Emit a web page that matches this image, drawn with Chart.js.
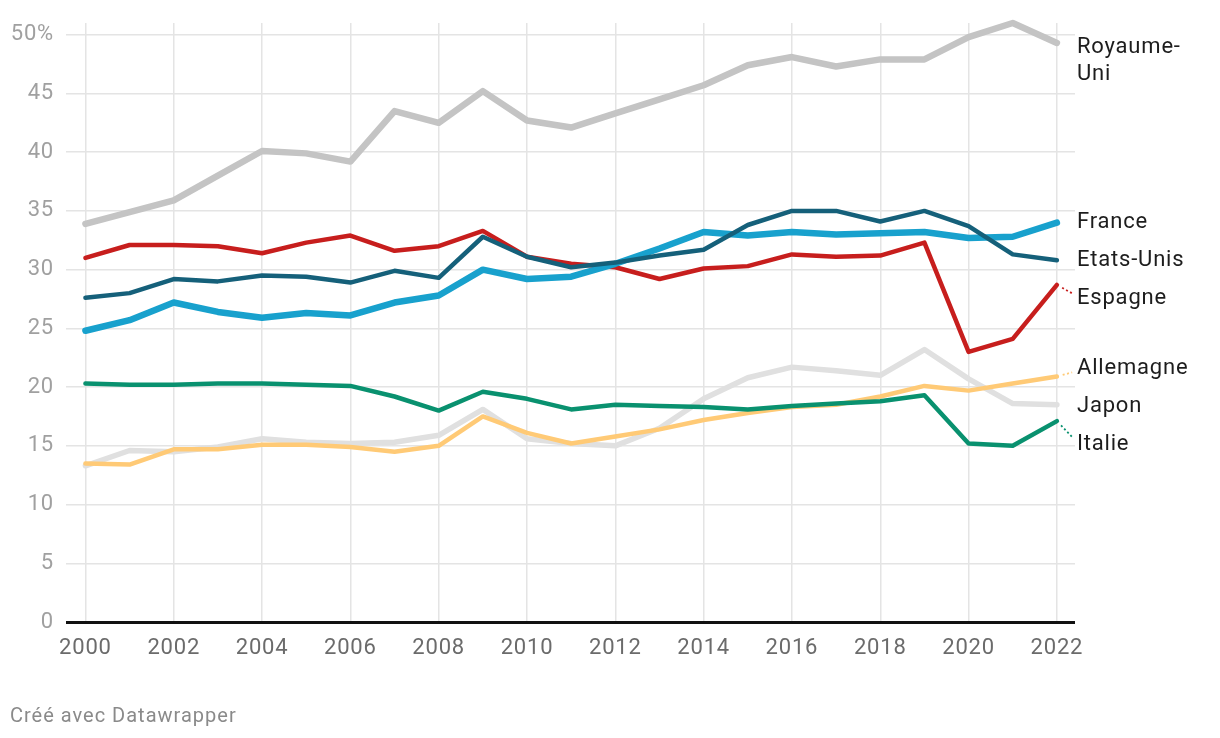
<!DOCTYPE html>
<html>
<head>
<meta charset="utf-8">
<script src="https://cdn.jsdelivr.net/npm/chart.js@4.4.1/dist/chart.umd.min.js"></script>
<style>
  html, body { margin: 0; padding: 0; background: #fff; }
  #wrap { position: relative; width: 1220px; height: 738px; }
  canvas { display: block; }
  #footer { position: absolute; left: 10px; top: 703px; font-family: Roboto, sans-serif; font-size: 20px; letter-spacing: 1px; color: #8a8a8a; }
</style>
</head>
<body>
<div id="wrap">
  <canvas id="c" width="1220" height="738"></canvas>
  <div id="footer">Créé avec Datawrapper</div>
</div>
<script>
const years = [2000,2001,2002,2003,2004,2005,2006,2007,2008,2009,2010,2011,2012,2013,2014,2015,2016,2017,2018,2019,2020,2021,2022];
const xTickYears = [2000,2002,2004,2006,2008,2010,2012,2014,2016,2018,2020,2022];
const yTickValues = [0,5,10,15,20,25,30,35,40,45,50];

const royaumeUni = [33.9,34.9,35.9,38.0,40.1,39.9,39.2,43.5,42.5,45.2,42.7,42.1,43.3,44.5,45.7,47.4,48.1,47.3,47.9,47.9,49.8,51.0,49.3];
const france     = [24.8,25.7,27.2,26.4,25.9,26.3,26.1,27.2,27.8,30.0,29.2,29.4,30.5,31.8,33.2,32.9,33.2,33.0,33.1,33.2,32.7,32.8,34.0];
const etatsUnis  = [27.6,28.0,29.2,29.0,29.5,29.4,28.9,29.9,29.3,32.8,31.1,30.2,30.6,31.2,31.7,33.8,35.0,35.0,34.1,35.0,33.7,31.3,30.8];
const espagne    = [31.0,32.1,32.1,32.0,31.4,32.3,32.9,31.6,32.0,33.3,31.1,30.5,30.2,29.2,30.1,30.3,31.3,31.1,31.2,32.3,23.0,24.1,28.7];
const allemagne  = [13.5,13.4,14.7,14.7,15.1,15.1,14.9,14.5,15.0,17.5,16.1,15.2,15.8,16.4,17.2,17.8,18.3,18.5,19.2,20.1,19.7,20.3,20.9];
const japon      = [13.3,14.6,14.5,14.9,15.6,15.3,15.2,15.3,15.9,18.1,15.6,15.2,15.0,16.5,19.0,20.8,21.7,21.4,21.0,23.2,20.7,18.6,18.5];
const italie     = [20.3,20.2,20.2,20.3,20.3,20.2,20.1,19.2,18.0,19.6,19.0,18.1,18.5,18.4,18.3,18.1,18.4,18.6,18.8,19.3,15.2,15.0,17.1];

const seriesNames = ['Royaume-Uni','France','Etats-Unis','Espagne','Allemagne','Japon','Italie'];
// label lines and label anchor value (in % units) for the right-hand labels
const labelLines = [['Royaume-','Uni'],['France'],['Etats-Unis'],['Espagne'],['Allemagne'],['Japon'],['Italie']];
const labelValues = [48.9, 34.0, 30.8, 27.55, 21.6, 18.35, 15.15];
const connectors = [false,false,false,true,true,false,true];

const colors = ['#c4c4c4','#18a1cd','#15607a','#c71e1d','#ffca76','#e0e0e0','#09916f'];
const widths = [6.5,6.5,4.5,4.5,4.5,5.5,4.5];
const orders = [6,3,2,4,5,7,1];
const allSeries = [royaumeUni, france, etatsUnis, espagne, allemagne, japon, italie];

const datasets = allSeries.map((vals, i) => ({
  label: seriesNames[i],
  data: vals.map((v, k) => ({x: years[k], y: v})),
  borderColor: colors[i],
  backgroundColor: colors[i],
  borderWidth: widths[i],
  pointRadius: 0,
  pointHoverRadius: 0,
  tension: 0,
  borderCapStyle: 'round',
  borderJoinStyle: 'round',
  order: orders[i],
  clip: false,
  fill: false
}));

const spacingPlugin = {
  id: 'spacing',
  beforeDraw(chart) { chart.ctx.letterSpacing = '0.8px'; }
};

const labelPlugin = {
  id: 'endLabels',
  afterDatasetsDraw(chart) {
    const ctx = chart.ctx;
    const xs = chart.scales.x, ys = chart.scales.y;
    ctx.save();
    ctx.letterSpacing = '0.8px';
    ctx.font = '22px Roboto, sans-serif';
    ctx.fillStyle = '#1d1d1d';
    ctx.textBaseline = 'middle';
    ctx.textAlign = 'left';
    const lx = chart.chartArea.right + 2;
    labelLines.forEach((lines, i) => {
      const ly = ys.getPixelForValue(labelValues[i]);
      lines.forEach((t, j) => ctx.fillText(t, lx, ly + j * 27));
      if (connectors[i]) {
        const vals = allSeries[i];
        const px = xs.getPixelForValue(years[years.length - 1]);
        const py = ys.getPixelForValue(vals[vals.length - 1]);
        const tx = lx - 1, ty = ly - 3 * Math.sign(ly - py);
        const dx = tx - px, dy = ty - py, len = Math.hypot(dx, dy);
        const sx = px + dx / len * 6, sy = py + dy / len * 6;
        const ex = px + dx / len * (len - 4), ey = py + dy / len * (len - 4);
        ctx.strokeStyle = colors[i];
        ctx.lineWidth = 1.8;
        ctx.setLineDash([2, 2.5]);
        ctx.beginPath();
        ctx.moveTo(sx, sy);
        ctx.lineTo(ex, ey);
        ctx.stroke();
        ctx.setLineDash([]);
      }
    });
    ctx.restore();
  }
};

new Chart(document.getElementById('c'), {
  type: 'line',
  data: { datasets },
  plugins: [spacingPlugin, labelPlugin],
  options: {
    responsive: false,
    animation: false,
    events: [],
    layout: { padding: { top: 22, right: 145, left: 0, bottom: 66 } },
    plugins: { legend: { display: false }, tooltip: { enabled: false } },
    scales: {
      x: {
        type: 'linear',
        min: 1999.56,
        max: 2022.41,
        afterBuildTicks(scale) { scale.ticks = xTickYears.map(v => ({value: v})); },
        afterFit(scale) { scale.height = 50; },
        border: { display: false },
        grid: { color: '#e4e4e4', lineWidth: 1.5, drawTicks: false },
        ticks: {
          color: '#6b6b6b',
          font: { family: 'Roboto', size: 22 },
          padding: 13,
          maxRotation: 0,
          autoSkip: false,
          callback: v => String(v)
        }
      },
      y: {
        min: 0,
        max: 51,
        afterBuildTicks(scale) { scale.ticks = yTickValues.map(v => ({value: v})); },
        afterFit(scale) { scale.width = 66; },
        border: { display: false },
        grid: {
          color: c => (c.tick && c.tick.value === 0) ? '#111111' : '#e4e4e4',
          lineWidth: c => (c.tick && c.tick.value === 0) ? 3 : 1.5,
          drawTicks: false,
          z: 0
        },
        ticks: {
          color: '#a0a0a0',
          font: { family: 'Roboto', size: 22, lineHeight: 1 },
          padding: 12,
          callback: v => v === 50 ? '50%' : String(v)
        }
      }
    }
  }
});
</script>
</body>
</html>
